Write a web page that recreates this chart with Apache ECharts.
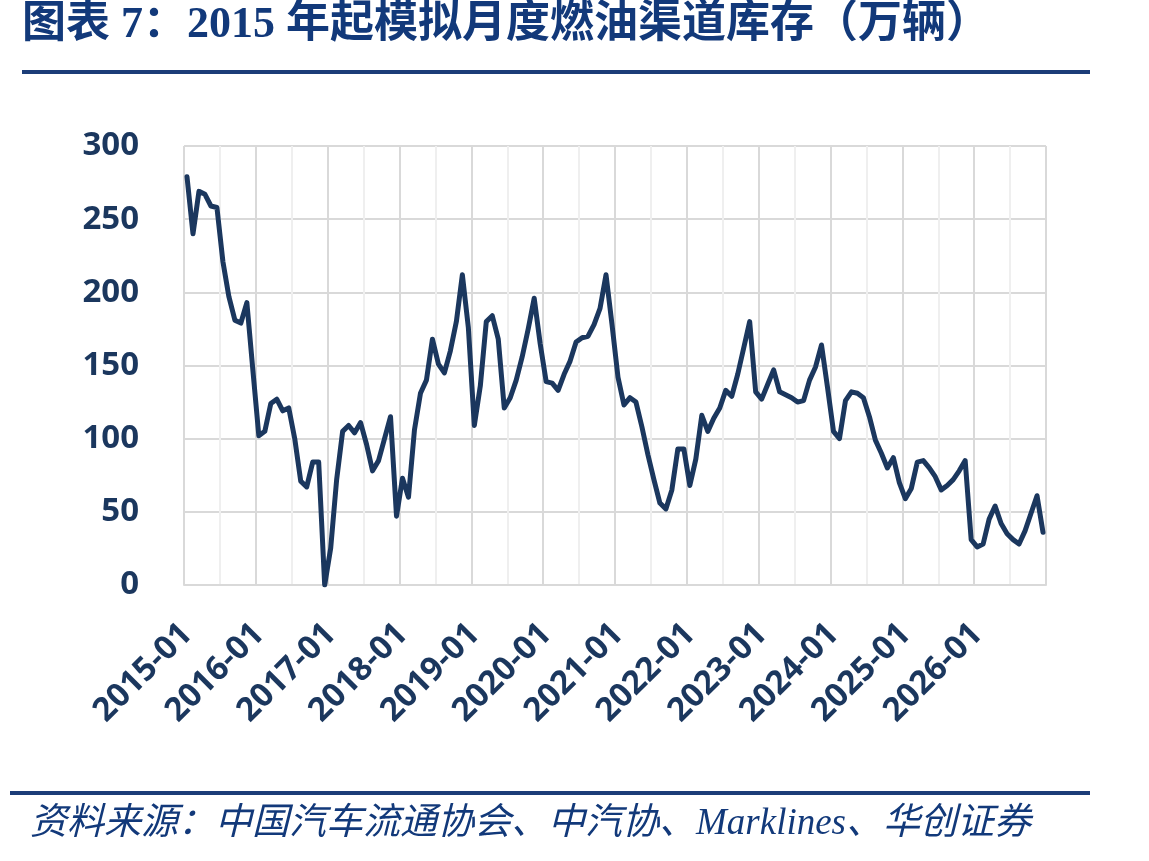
<!DOCTYPE html>
<html>
<head>
<meta charset="utf-8">
<title>2015年起模拟月度燃油渠道库存</title>
<script src="https://cdn.jsdelivr.net/npm/echarts@6/dist/echarts.min.js"></script>
<style>
    html, body { margin: 0; padding: 0; background: #fff; }
    #chart { width: 1149px; height: 861px; }
</style>
</head>
<body>
<div id="chart"></div>
<script>
// ------------------------------------------------------------------------
// Data (万辆, monthly, 2015-01 .. 2026-12)
// ------------------------------------------------------------------------
var startYear = 2015;
var endYear = 2026;
var months = [];
for (var y = startYear; y <= endYear; y++) {
    for (var m = 1; m <= 12; m++) {
        months.push(y + '-' + (m < 10 ? '0' + m : m));
    }
}

var inventory = [
    279, 240, 269, 267, 259, 258, 221, 197, 181, 179, 193, 147,   // 2015
    102, 105, 124, 127, 119, 121, 100, 71, 67, 84, 84, 0,         // 2016
    25, 72, 105, 109, 104, 111, 96, 78, 85, 100, 115, 47,         // 2017
    73, 60, 106, 131, 140, 168, 151, 145, 160, 180, 212, 176,     // 2018
    109, 136, 180, 184, 168, 121, 128, 140, 156, 175, 196, 165,   // 2019
    139, 138, 133, 144, 153, 166, 169, 170, 178, 189, 212, 178,   // 2020
    142, 123, 128, 125, 108, 89, 72, 56, 52, 65, 93, 93,          // 2021
    68, 86, 116, 105, 114, 121, 133, 129, 144, 162, 180, 132,     // 2022
    127, 137, 147, 132, 130, 128, 125, 126, 140, 149, 164, 135,   // 2023
    105, 100, 126, 132, 131, 128, 115, 99, 90, 80, 87, 70,        // 2024
    59, 66, 84, 85, 80, 74, 65, 68, 72, 78, 85, 31,               // 2025
    26, 28, 45, 54, 42, 35, 31, 28, 37, 49, 61, 36                // 2026
];

var yTicks = { min: 0, max: 300, step: 50 };

var titleText = '图表 7：2015 年起模拟月度燃油渠道库存（万辆）';
var sourceText = '资料来源：中国汽车流通协会、中汽协、Marklines、华创证券';

// ------------------------------------------------------------------------
// Chart
// ------------------------------------------------------------------------
var navy = '#1b375e';
var chart = echarts.init(document.getElementById('chart'), null, { renderer: 'canvas' });

var option = {
    backgroundColor: '#ffffff',
    animation: false,
    grid: { left: 184, right: 103, top: 146, bottom: 276, containLabel: false },
    xAxis: {
        type: 'category',
        data: months,
        boundaryGap: true,
        axisLine: { show: true, lineStyle: { color: '#d9d9d9', width: 2 } },
        axisTick: { show: false, interval: 5 },
        axisLabel: {
            interval: 11,
            rotate: 45,
            margin: 44,
            color: navy,
            fontFamily: '"Open Sans", "DejaVu Sans", sans-serif',
            fontWeight: 'bold',
            fontSize: 33
        },
        splitLine: {
            show: true,
            interval: 5,
            lineStyle: { color: ['#d9d9d9', '#efefef'], width: 2 }
        }
    },
    yAxis: {
        type: 'value',
        min: yTicks.min,
        max: yTicks.max,
        interval: yTicks.step,
        axisLine: { show: false },
        axisTick: { show: false },
        axisLabel: {
            margin: 45,
            color: navy,
            fontFamily: '"Open Sans", "DejaVu Sans", sans-serif',
            fontWeight: 'bold',
            fontSize: 33
        },
        splitLine: { lineStyle: { color: '#d9d9d9', width: 2 } }
    },
    series: [{
        type: 'line',
        data: inventory,
        symbol: 'none',
        lineStyle: { color: navy, width: 5, join: 'round', cap: 'round' }
    }],
    graphic: [
        {
            type: 'text', left: 22, top: 4,
            style: {
                text: titleText,
                fill: '#12397a',
                font: 'bold 44px "Liberation Serif", "Noto Sans CJK SC", serif'
            }
        },
        {
            type: 'rect', shape: { x: 22, y: 70, width: 1068, height: 4 },
            style: { fill: '#1c3d78' }
        },
        {
            type: 'rect', shape: { x: 10, y: 791, width: 1080, height: 4 },
            style: { fill: '#1c3d78' }
        },
        {
            type: 'text', left: 30, top: 806,
            style: {
                text: sourceText,
                fill: '#12397a',
                font: 'italic 37px "Liberation Serif", "Noto Sans CJK SC", serif'
            }
        }
    ]
};
chart.setOption(option);
</script>
</body>
</html>
